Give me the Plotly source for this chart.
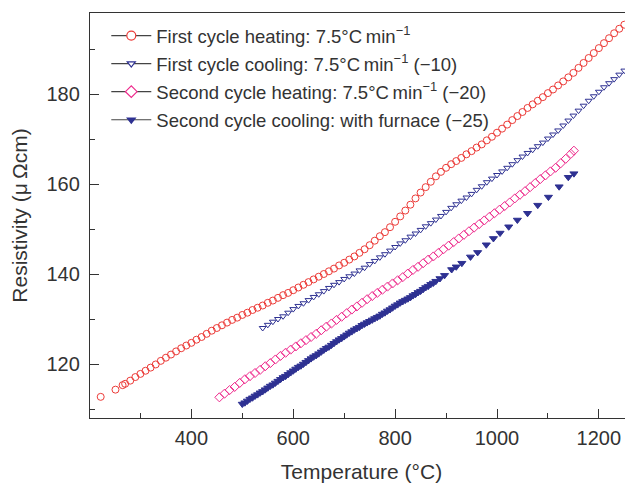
import plotly.graph_objects as go

# ---- data ----
heat1_T = [222, 251, 265, 270, 280, 290, 300, 310, 320, 330, 340, 350, 360, 370, 380, 390, 400,
           410, 420, 430, 440, 450, 460, 470, 480, 490, 500, 510, 520, 530, 540, 550, 560, 570,
           580, 590, 600, 610, 620, 630, 640, 650, 660, 670, 680, 690, 700, 710, 720, 730, 740,
           750, 760, 770, 780, 790, 800, 810, 820, 830, 840, 850, 860, 870, 880, 890, 900, 910,
           920, 930, 940, 950, 960, 970, 980, 990, 1000, 1010, 1020, 1030, 1040, 1050, 1060,
           1070, 1080, 1090, 1100, 1110, 1120, 1130, 1140, 1150, 1160, 1170, 1180, 1190, 1200,
           1210, 1220, 1230, 1240, 1250, 1260]
heat1_R = [112.7, 114.3, 115.3, 115.6, 116.3, 117.1, 117.8, 118.5, 119.2, 119.9, 120.7, 121.4,
           122.1, 122.8, 123.5, 124.1, 124.7, 125.4, 126.0, 126.7, 127.4, 128.0, 128.6, 129.2,
           129.8, 130.3, 130.9, 131.4, 132.0, 132.5, 133.0, 133.6, 134.1, 134.7, 135.3, 135.8,
           136.4, 137.0, 137.6, 138.2, 138.8, 139.4, 140.0, 140.6, 141.2, 141.9, 142.5, 143.2,
           143.9, 144.7, 145.5, 146.4, 147.4, 148.4, 149.3, 150.4, 151.6, 152.8, 154.1, 155.4,
           156.8, 158.1, 159.3, 160.5, 161.7, 162.7, 163.6, 164.4, 165.1, 165.8, 166.6, 167.3,
           168.1, 168.8, 169.7, 170.5, 171.4, 172.3, 173.2, 174.2, 175.1, 176.0, 176.9, 177.7,
           178.5, 179.3, 180.2, 181.0, 181.9, 182.8, 183.7, 184.7, 185.8, 186.9, 188.0, 189.1,
           190.2, 191.3, 192.4, 193.5, 194.5, 195.4, 196.1]

cool1_T = [540, 550, 560, 570, 580, 590, 600, 610, 620, 630, 640, 650, 660, 670, 680, 690, 700,
           710, 720, 730, 740, 750, 760, 770, 780, 790, 800, 810, 820, 830, 840, 850, 860, 870,
           880, 890, 900, 910, 920, 930, 940, 950, 960, 970, 980, 990, 1000, 1010, 1020, 1030,
           1040, 1050, 1060, 1070, 1080, 1090, 1100, 1110, 1120, 1130, 1140, 1150, 1160, 1170,
           1180, 1190, 1200, 1210, 1220, 1230, 1240, 1250, 1260, 1267]
cool1_R = [128.0, 128.7, 129.4, 130.0, 130.6, 131.4, 132.2, 132.9, 133.5, 134.2, 134.9, 135.5,
           136.2, 136.9, 137.6, 138.2, 138.9, 139.5, 140.1, 140.8, 141.4, 142.2, 142.9, 143.7,
           144.4, 145.2, 146.0, 146.8, 147.5, 148.3, 149.0, 149.8, 150.6, 151.3, 152.1, 152.9,
           153.8, 154.7, 155.5, 156.3, 157.0, 157.8, 158.7, 159.5, 160.4, 161.2, 162.0, 162.8,
           163.6, 164.4, 165.3, 166.1, 166.9, 167.6, 168.4, 169.2, 170.1, 171.0, 171.9, 173.0,
           174.1, 175.2, 176.3, 177.4, 178.5, 179.5, 180.5, 181.5, 182.4, 183.3, 184.3, 185.2,
           186.4, 187.3]

heat2_T = [455, 465, 475, 485, 495, 505, 515, 525, 535, 545, 555, 565, 575, 585, 595, 605, 615,
           625, 635, 645, 655, 665, 675, 685, 695, 705, 715, 725, 735, 745, 755, 765, 775, 785,
           795, 805, 815, 825, 835, 845, 855, 865, 875, 885, 895, 905, 915, 925, 935, 945, 955,
           965, 975, 985, 995, 1005, 1015, 1025, 1035, 1045, 1055, 1065, 1075, 1085, 1095, 1105,
           1115, 1125, 1135, 1145, 1151]
heat2_R = [112.6, 113.4, 114.2, 114.9, 115.8, 116.6, 117.3, 118.0, 118.7, 119.5, 120.2, 121.0,
           121.8, 122.5, 123.2, 123.9, 124.6, 125.3, 126.0, 126.7, 127.5, 128.3, 129.0, 129.8,
           130.5, 131.3, 132.1, 132.8, 133.6, 134.4, 135.1, 135.8, 136.5, 137.2, 137.9, 138.6,
           139.3, 140.1, 140.9, 141.6, 142.4, 143.2, 143.9, 144.7, 145.5, 146.3, 147.1, 147.9,
           148.7, 149.5, 150.3, 151.1, 151.9, 152.7, 153.5, 154.3, 155.1, 155.9, 156.8, 157.6,
           158.4, 159.3, 160.2, 161.1, 161.9, 162.8, 163.6, 164.6, 165.6, 166.7, 167.4]

cool2_T = [500, 505, 510, 515, 520, 525, 530, 535, 540, 545, 550, 555, 560, 565, 570, 575, 580,
           585, 590, 595, 600, 605, 610, 615, 620, 625, 630, 635, 640, 645, 650, 655, 660, 665,
           670, 675, 680, 685, 690, 695, 700, 705, 710, 715, 720, 725, 730, 735, 740, 745, 750,
           755, 760, 765, 770, 775, 780, 785, 790, 795, 800, 805, 810, 815, 820, 825, 830, 835,
           840, 845, 850, 855, 860, 865, 870, 875, 880, 888, 897, 911, 920, 931, 948, 962, 979,
           993, 1006, 1023, 1040, 1060, 1080, 1101, 1122, 1140, 1151]
cool2_R = [111.1, 111.4, 111.8, 112.2, 112.5, 112.9, 113.2, 113.6, 113.9, 114.3, 114.7, 115.1,
           115.4, 115.8, 116.2, 116.6, 117.0, 117.3, 117.7, 118.1, 118.5, 118.9, 119.3, 119.6,
           120.0, 120.4, 120.8, 121.2, 121.6, 121.9, 122.3, 122.7, 123.1, 123.5, 123.8, 124.2,
           124.6, 125.0, 125.4, 125.7, 126.1, 126.5, 126.9, 127.2, 127.6, 127.9, 128.2, 128.6,
           128.9, 129.2, 129.5, 129.8, 130.1, 130.4, 130.7, 131.1, 131.4, 131.8, 132.1, 132.5,
           132.9, 133.2, 133.6, 133.9, 134.2, 134.5, 134.8, 135.2, 135.5, 135.9, 136.2, 136.6,
           137.0, 137.3, 137.7, 138.0, 138.4, 139.0, 139.7, 141.0, 141.6, 142.4, 143.8, 144.8,
           146.5, 147.9, 149.1, 150.5, 152.0, 153.5, 155.3, 157.1, 159.4, 161.5, 162.3]

names = [
    "First cycle heating: 7.5°C\u2009min<sup>−1</sup>",
    "First cycle cooling: 7.5°C\u2009min<sup>−1</sup> (−10)",
    "Second cycle heating: 7.5°C\u2009min<sup>−1</sup> (−20)",
    "Second cycle cooling: with furnace (−25)",
]
x_ticks = [400, 600, 800, 1000, 1200]
x_minor = [300, 500, 700, 900, 1100]
y_ticks = [120, 140, 160, 180]
y_minor = [110, 130, 150, 170, 190]

RED = "#ec3b38"
NAVY = "#2e3192"
PINK = "#ee2a8c"
AX = "#333333"
FONT = "Liberation Sans, Arial, sans-serif"

fig = go.Figure()
series = [
    (heat1_T, heat1_R, RED, "circle-open", "circle", 7),
    (cool1_T, cool1_R, NAVY, "triangle-down-open", "triangle-down", 6),
    (heat2_T, heat2_R, PINK, "diamond-open", "diamond", 7),
    (cool2_T, cool2_R, NAVY, "triangle-down", "triangle-down", 7),
]
for i, (xs, ys, col, sym, lsym, sz) in enumerate(series):
    fig.add_trace(go.Scatter(
        x=xs, y=ys, mode="markers", showlegend=False,
        marker=dict(symbol=sym, size=sz, color=col, line=dict(color=col, width=1)),
    ))
for i, (xs, ys, col, sym, lsym, sz) in enumerate(series):
    filled = (i == 3)
    fig.add_trace(go.Scatter(
        x=[None], y=[None], mode="lines+markers", name=names[i], legendgroup=str(i),
        line=dict(color="#444444", width=1.2),
        marker=dict(symbol=lsym, size=9 if i in (0, 2) else 7,
                    color=col if filled else "white",
                    line=dict(color=col, width=1.2)),
    ))

# the page body adds an 8px margin, so the figure is 8px smaller than the window
fig.update_layout(
    width=625, height=475,
    margin=dict(l=82, r=0, t=5, b=65),
    paper_bgcolor="white", plot_bgcolor="white",
    font=dict(family=FONT, size=20, color=AX),
    showlegend=True,
    legend=dict(x=0.030, y=0.99, xanchor="left", yanchor="top",
                bgcolor="rgba(0,0,0,0)", font=dict(size=18.5, color=AX),
                traceorder="grouped", tracegroupgap=1, itemwidth=40),
    xaxis=dict(
        range=[201, 1267], tickvals=x_ticks, ticks="inside", ticklen=9, tickwidth=1.2,
        tickcolor=AX, showline=True, linecolor=AX, linewidth=1.3, mirror=True,
        showgrid=False, zeroline=False, tickfont=dict(size=20), automargin=False,
        ticklabelstandoff=2,
        minor=dict(tickvals=x_minor, ticks="inside", ticklen=5, tickcolor=AX, tickwidth=1.2),
        title=dict(text="Temperature (°C)", font=dict(size=21), standoff=19),
    ),
    yaxis=dict(
        range=[108, 198], tickvals=y_ticks, ticks="inside", ticklen=9, tickwidth=1.2,
        tickcolor=AX, showline=True, linecolor=AX, linewidth=1.3, mirror=False,
        showgrid=False, zeroline=False, tickfont=dict(size=20), automargin=False,
        ticklabelstandoff=5,
        minor=dict(tickvals=y_minor, ticks="inside", ticklen=5, tickcolor=AX, tickwidth=1.2),
        title=dict(text="Resistivity (μ\u2009Ωcm)", font=dict(size=21), standoff=20),
    ),
)

fig.write_html("out.html")
